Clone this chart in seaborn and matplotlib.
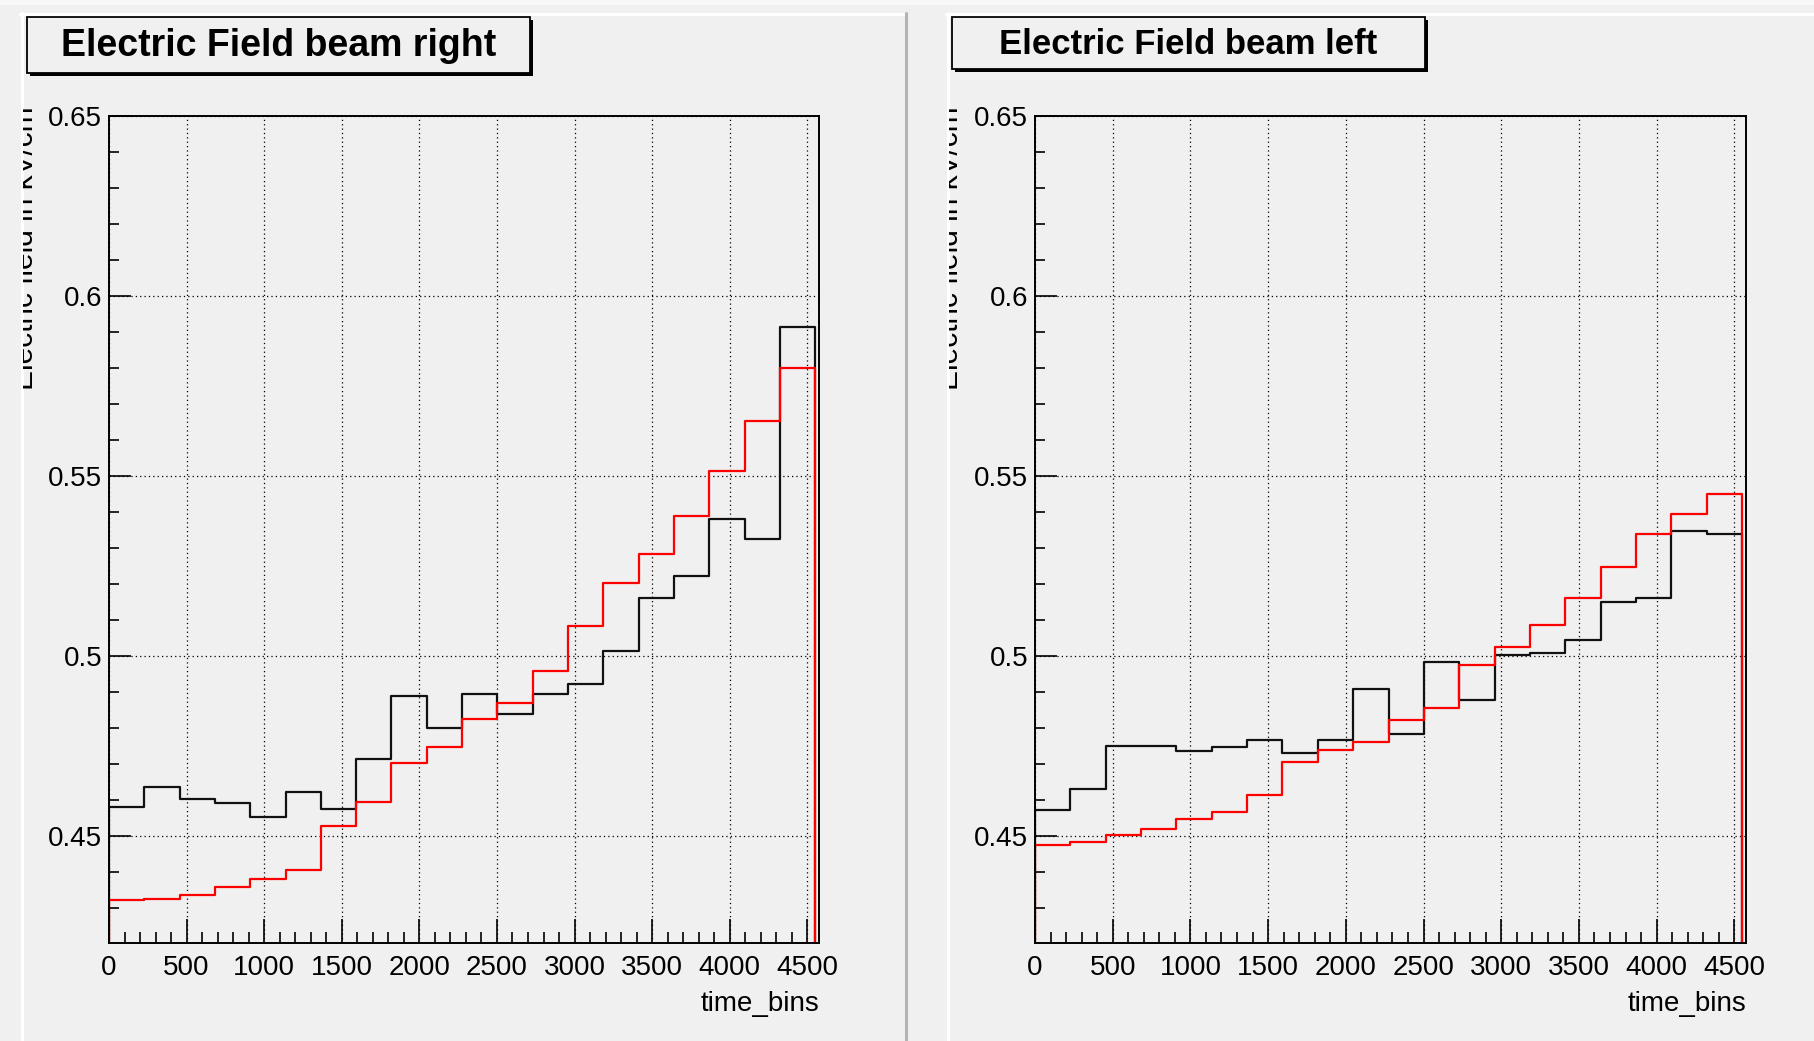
import numpy as np
import pandas as pd
import matplotlib
matplotlib.use("Agg")
import matplotlib.pyplot as plt
import seaborn as sns
from matplotlib.patches import Rectangle
from matplotlib.lines import Line2D
from matplotlib.ticker import MultipleLocator
from matplotlib.transforms import Bbox, TransformedBbox

# ---------------- data ----------------
n_bins = 20
bin_width = 227.5
panel_titles = ["Electric Field beam right", "Electric Field beam left"]
x_label = "time_bins"
y_label = "Electric field in kV/cm"
x_ticks = [0, 500, 1000, 1500, 2000, 2500, 3000, 3500, 4000, 4500]
x_tick_labels = ["0", "500", "1000", "1500", "2000", "2500", "3000", "3500", "4000", "4500"]
y_ticks = [0.45, 0.5, 0.55, 0.6, 0.65]
y_tick_labels = ["0.45", "0.5", "0.55", "0.6", "0.65"]
x_range = (0, 4575)
y_range = (0.4203, 0.65)

beam_right_black = [0.4580, 0.4637, 0.4604, 0.4592, 0.4552, 0.4623, 0.4575, 0.4713, 0.4890, 0.4801,
                    0.4894, 0.4838, 0.4894, 0.4922, 0.5015, 0.5160, 0.5221, 0.5380, 0.5325, 0.5914]
beam_right_red = [0.4322, 0.4326, 0.4337, 0.4358, 0.4382, 0.4406, 0.4528, 0.4595, 0.4704, 0.4748,
                  0.4826, 0.4869, 0.4959, 0.5084, 0.5204, 0.5284, 0.5390, 0.5514, 0.5654, 0.5799]
beam_left_black = [0.4572, 0.4632, 0.4750, 0.4750, 0.4735, 0.4747, 0.4767, 0.4731, 0.4767, 0.4909,
                   0.4784, 0.4984, 0.4877, 0.5004, 0.5009, 0.5044, 0.5149, 0.5161, 0.5348, 0.5340]
beam_left_red = [0.4476, 0.4483, 0.4504, 0.4519, 0.4548, 0.4567, 0.4615, 0.4707, 0.4738, 0.4762,
                 0.4823, 0.4855, 0.4976, 0.5025, 0.5085, 0.5161, 0.5248, 0.5339, 0.5395, 0.5451]

# ---------------- figure ----------------
W, H = 1814, 1041
BG = "#f0f0f0"
sns.set_style("white")
plt.rcParams["font.family"] = ["Liberation Sans", "DejaVu Sans"]
plt.rcParams["axes.axisbelow"] = True

fig = plt.figure(figsize=(W / 100, H / 100), dpi=100, facecolor=BG)


def fx(x):
    return x / W


def fy(y):
    return 1 - y / H


# canvas decorations (ROOT pad borders)
fig.add_artist(Rectangle((0, fy(5)), 1, 5 / H, transform=fig.transFigure,
                         facecolor="#f8f8f8", edgecolor="none"))
for (x0, x1) in [(20, 905), (946, W)]:
    fig.add_artist(Line2D([fx(x0), fx(x1)], [fy(13.5), fy(13.5)], transform=fig.transFigure,
                          color="white", lw=2.2))
for xx in (21.5, 947.5):
    fig.add_artist(Line2D([fx(xx), fx(xx)], [fy(13), 0], transform=fig.transFigure,
                          color="white", lw=2.2))
fig.add_artist(Line2D([fx(906), fx(906)], [fy(13), 0], transform=fig.transFigure,
                      color="#b4b4b4", lw=2.2))

hist_start = 0.0
hist_stop = hist_start + n_bins * bin_width
edges = hist_start + np.arange(n_bins + 1) * bin_width
centers = edges[:-1] + bin_width / 2


def draw_panel(ax_px, black_vals, red_vals, title, title_size, box_px, ylab_right, clip_left):
    x0, y0, x1, y1 = ax_px
    ax = fig.add_axes([fx(x0), fy(y1), (x1 - x0) / W, (y1 - y0) / H])
    ax.set_facecolor(BG)
    df = pd.DataFrame({"time_bins": centers, "black": black_vals, "red": red_vals})
    sns.histplot(data=df, x="time_bins", weights="black", bins=n_bins,
                 binrange=(hist_start, hist_stop), element="step",
                 fill=False, color="#111111", linewidth=1.6, ax=ax, zorder=2.1)
    ax.vlines([edges[0], edges[-1]], 0, [black_vals[0], black_vals[-1]],
              color="#111111", lw=1.6, zorder=2.1)
    sns.histplot(data=df, x="time_bins", weights="red", bins=n_bins,
                 binrange=(hist_start, hist_stop), element="step",
                 fill=False, color="#ff0000", linewidth=1.6, ax=ax, zorder=2.2)
    ax.vlines([edges[0], edges[-1]], 0, [red_vals[0], red_vals[-1]],
              color="#ff0000", lw=1.6, zorder=2.2)

    ax.set_xlim(*x_range)
    ax.set_ylim(*y_range)
    ax.set_xticks(x_ticks, x_tick_labels)
    ax.set_yticks(y_ticks, y_tick_labels)
    ax.xaxis.set_minor_locator(MultipleLocator(100))
    ax.yaxis.set_minor_locator(MultipleLocator(0.01))
    ax.tick_params(axis="x", which="both", bottom=True, top=False)
    ax.tick_params(axis="y", which="both", left=True, right=False)
    ax.tick_params(axis="x", which="major", direction="in", length=17, width=1.2,
                   pad=8.5, labelsize=20, color="black", labelcolor="black")
    ax.tick_params(axis="x", which="minor", direction="in", length=8, width=1.2, color="black")
    ax.tick_params(axis="y", which="major", direction="in", length=16, width=1.2,
                   pad=5, labelsize=20, color="black", labelcolor="black")
    ax.tick_params(axis="y", which="minor", direction="in", length=7.5, width=1.2, color="black")
    ax.grid(True, which="major", color="black", linestyle=(0, (1, 2.5)), linewidth=0.9)
    for sp in ax.spines.values():
        sp.set_visible(True)
        sp.set_color("black")
        sp.set_linewidth(1.4)
        sp.set_zorder(3)
    ax.set_ylabel("")
    ax.set_xlabel(x_label, loc="right", fontsize=20, labelpad=7, color="black")

    # title pave with shadow
    bx0, by0, bx1, by1 = box_px
    fig.add_artist(Rectangle((fx(bx0 + 3), fy(by1 + 3)), (bx1 - bx0) / W, (by1 - by0) / H,
                             transform=fig.transFigure, facecolor="black", edgecolor="none"))
    fig.add_artist(Rectangle((fx(bx0), fy(by1)), (bx1 - bx0) / W, (by1 - by0) / H,
                             transform=fig.transFigure, facecolor=BG, edgecolor="black", lw=1.3))
    fig.text(fx((bx0 + bx1) / 2), fy((by0 + by1) / 2 + 1), title, ha="center", va="center",
             fontsize=title_size, fontweight="bold", color="black")

    # y label clipped at the pad edge (as in the original canvas)
    t = fig.text(fx(ylab_right), fy(106), y_label, rotation=90, ha="right", va="top",
                 fontsize=21.5, color="black")
    t.set_clip_box(TransformedBbox(Bbox([[fx(clip_left), 0], [1, 1]]), fig.transFigure))
    t.set_clip_on(True)
    return ax


draw_panel((109, 116, 819, 943), beam_right_black, beam_right_red, panel_titles[0], 27,
           (27, 17, 530, 73), 39, 23)
draw_panel((1035, 116, 1746, 943), beam_left_black, beam_left_red, panel_titles[1], 25,
           (952, 17, 1425, 69), 964, 949)

fig.savefig("out.png", dpi=100, facecolor=BG)
